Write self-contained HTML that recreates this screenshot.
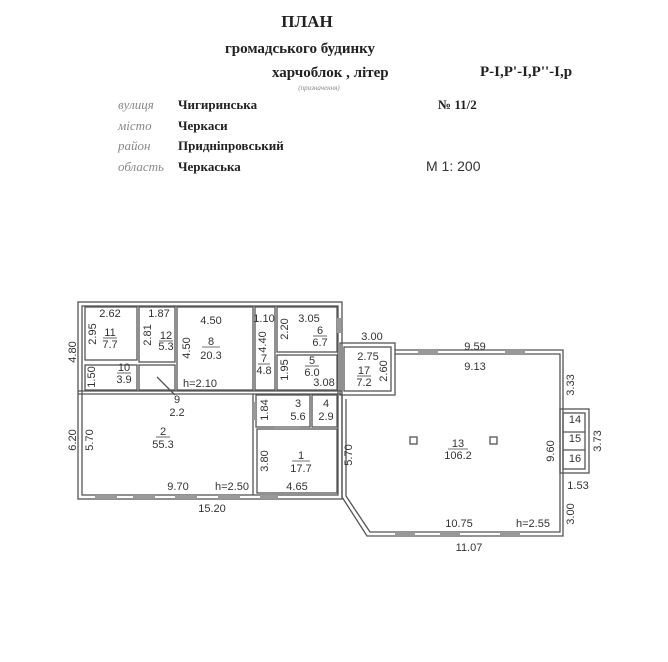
<!DOCTYPE html>
<html><head><meta charset="utf-8"><style>
body{margin:0;background:#fff;}
svg{display:block}
text{font-family:"Liberation Sans",sans-serif;fill:#333;}
.s{font-family:"Liberation Serif",serif;font-weight:bold;fill:#222}
.i{font-family:"Liberation Serif",serif;font-style:italic;fill:#888}
.d{font-size:11px;}
</style></head><body>
<svg width="668" height="662" viewBox="0 0 668 662" xmlns="http://www.w3.org/2000/svg">
<text x="307" y="27" class="s" font-size="17" text-anchor="middle">ПЛАН</text>
<text x="300" y="53" class="s" font-size="15" text-anchor="middle">громадського будинку</text>
<text x="272" y="77" class="s" font-size="15">харчоблок , літер</text>
<text x="480" y="76" class="s" font-size="15">P-I,P'-I,P''-I,p</text>
<text x="319" y="90" class="i" font-size="7" text-anchor="middle" fill="#aaa">(призначення)</text>
<g font-size="13">
<text x="118" y="109" class="i">вулиця</text><text x="178" y="109" class="s">Чигиринська</text>
<text x="118" y="130" class="i">місто</text><text x="178" y="130" class="s">Черкаси</text>
<text x="118" y="150" class="i">район</text><text x="178" y="150" class="s">Придніпровський</text>
<text x="118" y="171" class="i">область</text><text x="178" y="171" class="s">Черкаська</text>
<text x="438" y="109" class="s">№ 11/2</text>
<text x="426" y="171" font-family="Liberation Serif" font-size="14" fill="#333">M 1: 200</text>
</g>
<g fill="none" stroke="#555" stroke-width="1.3">
<rect x="78" y="302" width="264" height="197"/>
<rect x="82" y="306" width="256" height="189"/>
<rect x="85" y="307" width="52" height="53"/>
<rect x="139" y="307" width="36" height="55"/>
<rect x="177" y="307" width="76" height="83"/>
<rect x="255" y="307" width="20" height="83"/>
<rect x="277" y="307" width="60" height="45"/>
<rect x="277" y="355" width="60" height="35"/>
<rect x="85" y="365" width="52" height="25"/>
<rect x="139" y="365" width="36" height="25"/>
<line x1="78" y1="391" x2="342" y2="391"/><line x1="78" y1="394" x2="342" y2="394"/>
<rect x="256" y="395" width="54" height="32"/>
<rect x="312" y="395" width="25" height="32"/>
<rect x="257" y="429" width="80" height="64"/>
<line x1="253" y1="394" x2="253" y2="495"/>
<rect x="340" y="343" width="55" height="52"/>
<rect x="344" y="347" width="47" height="44"/>
<path d="M342 395 V497 L367 536 H563 V350 H395"/>
<path d="M346 399 V496 L370 532 H560 V354 H395"/>
<rect x="560" y="409" width="29" height="64"/>
<rect x="563" y="413" width="22" height="56"/>
<line x1="563" y1="432" x2="585" y2="432"/><line x1="563" y1="450" x2="585" y2="450"/>
<rect x="410" y="437" width="7" height="7"/><rect x="490" y="437" width="7" height="7"/>
<line x1="157" y1="377" x2="175" y2="395"/>
</g>
<g stroke="#444" stroke-width="0.8">
<line x1="103" y1="338" x2="117" y2="338"/><line x1="159" y1="341" x2="173" y2="341"/>
<line x1="202" y1="347" x2="220" y2="347"/><line x1="258" y1="364" x2="270" y2="364"/>
<line x1="313" y1="336" x2="327" y2="336"/><line x1="305" y1="366" x2="319" y2="366"/>
<line x1="117" y1="373" x2="131" y2="373"/><line x1="357" y1="376" x2="371" y2="376"/>
<line x1="156" y1="437" x2="170" y2="437"/><line x1="292" y1="461" x2="310" y2="461"/>
<line x1="448" y1="449" x2="468" y2="449"/>
</g>
<g fill="#999">
<rect x="95" y="495" width="22" height="4"/><rect x="133" y="495" width="22" height="4"/><rect x="175" y="495" width="22" height="4"/><rect x="218" y="495" width="22" height="4"/><rect x="260" y="495" width="18" height="4"/>
<rect x="395" y="532" width="20" height="4"/><rect x="440" y="532" width="20" height="4"/><rect x="500" y="532" width="20" height="4"/>
<rect x="418" y="350" width="20" height="4"/><rect x="505" y="350" width="20" height="4"/>
<rect x="337" y="318" width="4" height="15"/>
<rect x="253" y="402" width="3" height="18"/><rect x="275" y="426" width="25" height="3"/>
</g>
<g class="d" text-anchor="middle">
<text x="110" y="317">2.62</text><text x="110" y="336">11</text><text x="110" y="348">7.7</text>
<text x="159" y="317">1.87</text><text x="166" y="339">12</text><text x="166" y="350">5.3</text>
<text x="211" y="324">4.50</text><text x="211" y="345">8</text><text x="211" y="359">20.3</text>
<text x="264" y="322">1.10</text><text x="264" y="362">7</text><text x="264" y="374">4.8</text>
<text x="309" y="322">3.05</text><text x="320" y="334">6</text><text x="320" y="346">6.7</text>
<text x="312" y="364">5</text><text x="312" y="376">6.0</text><text x="324" y="386">3.08</text>
<text x="124" y="371">10</text><text x="124" y="383">3.9</text>
<text x="200" y="387">h=2.10</text>
<text x="177" y="403">9</text><text x="177" y="416">2.2</text>
<text x="163" y="435">2</text><text x="163" y="448">55.3</text>
<text x="178" y="490">9.70</text><text x="232" y="490">h=2.50</text>
<text x="298" y="407">3</text><text x="298" y="420">5.6</text>
<text x="326" y="407">4</text><text x="326" y="420">2.9</text>
<text x="301" y="459">1</text><text x="301" y="472">17.7</text>
<text x="297" y="490">4.65</text>
<text x="212" y="512">15.20</text>
<text x="372" y="340">3.00</text><text x="368" y="360">2.75</text><text x="364" y="374">17</text><text x="364" y="386">7.2</text>
<text x="475" y="350">9.59</text><text x="475" y="370">9.13</text>
<text x="458" y="447">13</text><text x="458" y="459">106.2</text>
<text x="459" y="527">10.75</text><text x="533" y="527">h=2.55</text>
<text x="469" y="551">11.07</text>
<text x="575" y="423">14</text><text x="575" y="442">15</text><text x="575" y="462">16</text>
<text x="578" y="489">1.53</text>
</g>
<g class="d" text-anchor="middle">
<text transform="translate(76,352) rotate(-90)">4.80</text>
<text transform="translate(96,334) rotate(-90)">2.95</text>
<text transform="translate(95,377) rotate(-90)">1.50</text>
<text transform="translate(151,335) rotate(-90)">2.81</text>
<text transform="translate(190,348) rotate(-90)">4.50</text>
<text transform="translate(266,342) rotate(-90)">4.40</text>
<text transform="translate(288,329) rotate(-90)">2.20</text>
<text transform="translate(288,370) rotate(-90)">1.95</text>
<text transform="translate(76,440) rotate(-90)">6.20</text>
<text transform="translate(93,440) rotate(-90)">5.70</text>
<text transform="translate(268,410) rotate(-90)">1.84</text>
<text transform="translate(268,461) rotate(-90)">3.80</text>
<text transform="translate(352,455) rotate(-90)">5.70</text>
<text transform="translate(387,371) rotate(-90)">2.60</text>
<text transform="translate(574,385) rotate(-90)">3.33</text>
<text transform="translate(554,451) rotate(-90)">9.60</text>
<text transform="translate(601,441) rotate(-90)">3.73</text>
<text transform="translate(574,514) rotate(-90)">3.00</text>
</g>
</svg>
</body></html>
